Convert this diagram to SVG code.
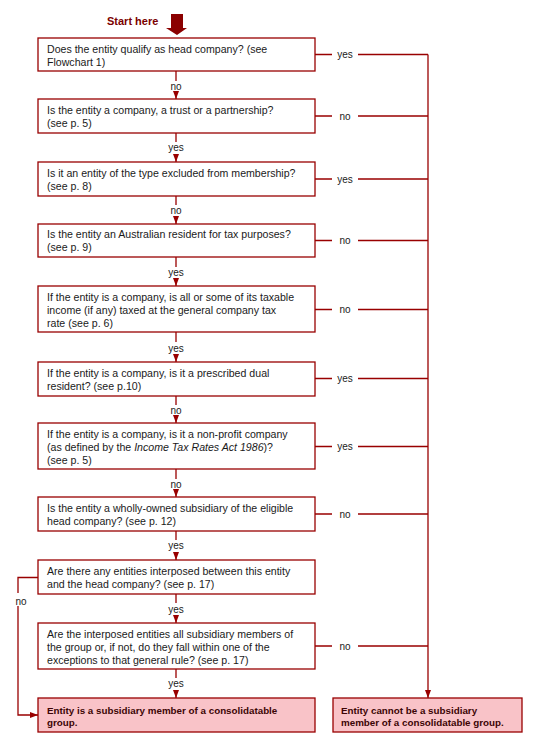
<svg xmlns="http://www.w3.org/2000/svg" width="544" height="748" viewBox="0 0 544 748">
<style>
  .box{fill:#ffffff;stroke:#990000;stroke-width:1.3}
  .end{fill:#f9c3c8;stroke:#990000;stroke-width:1.3}
  .t{font-family:"Liberation Sans",Arial,sans-serif;font-size:10.6px;fill:#1a1a1a}
  .te{font-family:"Liberation Sans",Arial,sans-serif;font-size:9.8px;font-weight:bold;fill:#3c0505}
  .lb{font-family:"Liberation Sans",Arial,sans-serif;font-size:10px;fill:#1a1a1a;text-anchor:middle}
  .c{fill:none;stroke:#990000;stroke-width:1.3}
  .start{font-family:"Liberation Sans",Arial,sans-serif;font-size:11px;font-weight:bold;fill:#7b0000}
</style>
<defs>
  <marker id="ah" viewBox="0 0 8 6" refX="8" refY="3" markerWidth="8" markerHeight="6" markerUnits="userSpaceOnUse" orient="auto">
    <path d="M0,0 L8,3 L0,6 z" fill="#990000"/>
  </marker>
</defs>
<rect width="544" height="748" fill="#ffffff"/>

<g id="start">
  <text class="start" x="107" y="25">Start here</text>
  <path d="M171,14 H183 V28 H187 L177,35 L166,28 H171 Z" fill="#8b0000"/>
</g>

<g id="q1">
  <rect class="box" x="38" y="38" width="277" height="33"/>
  <text class="t" x="47" y="52.5">Does the entity qualify as head company? (see</text>
  <text class="t" x="47" y="65.5">Flowchart 1)</text>
</g>
<g id="q2">
  <rect class="box" x="38" y="99" width="277" height="34"/>
  <text class="t" x="47" y="113.5">Is the entity a company, a trust or a partnership?</text>
  <text class="t" x="47" y="126.5">(see p. 5)</text>
</g>
<g id="q3">
  <rect class="box" x="38" y="162" width="277" height="34"/>
  <text class="t" x="47" y="176.5">Is it an entity of the type excluded from membership?</text>
  <text class="t" x="47" y="189.5">(see p. 8)</text>
</g>
<g id="q4">
  <rect class="box" x="38" y="224" width="277" height="33"/>
  <text class="t" x="47" y="238">Is the entity an Australian resident for tax purposes?</text>
  <text class="t" x="47" y="251">(see p. 9)</text>
</g>
<g id="q5">
  <rect class="box" x="38" y="286" width="277" height="46"/>
  <text class="t" x="47" y="301">If the entity is a company, is all or some of its taxable</text>
  <text class="t" x="47" y="314">income (if any) taxed at the general company tax</text>
  <text class="t" x="47" y="327">rate (see p. 6)</text>
</g>
<g id="q6">
  <rect class="box" x="38" y="362" width="277" height="34"/>
  <text class="t" x="47" y="376.5">If the entity is a company, is it a prescribed dual</text>
  <text class="t" x="47" y="389.5">resident? (see p.10)</text>
</g>
<g id="q7">
  <rect class="box" x="38" y="423" width="277" height="46"/>
  <text class="t" x="47" y="438">If the entity is a company, is it a non-profit company</text>
  <text class="t" x="47" y="451">(as defined by the <tspan font-style="italic">Income Tax Rates Act 1986</tspan>)?</text>
  <text class="t" x="47" y="464">(see p. 5)</text>
</g>
<g id="q8">
  <rect class="box" x="38" y="497" width="277" height="34"/>
  <text class="t" x="47" y="511.5">Is the entity a wholly-owned subsidiary of the eligible</text>
  <text class="t" x="47" y="524.5">head company? (see p. 12)</text>
</g>
<g id="q9">
  <rect class="box" x="38" y="560" width="277" height="34"/>
  <text class="t" x="47" y="574.5">Are there any entities interposed between this entity</text>
  <text class="t" x="47" y="587.5">and the head company? (see p. 17)</text>
</g>
<g id="q10">
  <rect class="box" x="38" y="623" width="277" height="46"/>
  <text class="t" x="47" y="638">Are the interposed entities all subsidiary members of</text>
  <text class="t" x="47" y="651">the group or, if not, do they fall within one of the</text>
  <text class="t" x="47" y="664">exceptions to that general rule? (see p. 17)</text>
</g>
<g id="endYes">
  <rect class="end" x="38" y="698" width="277" height="34"/>
  <text class="te" x="47" y="713.5">Entity is a subsidiary member of a consolidatable</text>
  <text class="te" x="47" y="726">group.</text>
</g>
<g id="endNo">
  <rect class="end" x="333" y="698" width="189" height="34"/>
  <text class="te" x="341" y="713.5">Entity cannot be a subsidiary</text>
  <text class="te" x="341" y="726">member of a consolidatable group.</text>
</g>

<g id="connectors">
  <path class="c" d="M176,71 V81 M176,92 V99" marker-end="url(#ah)"/>
  <path class="c" d="M176,133 V142 M176,154 V162" marker-end="url(#ah)"/>
  <path class="c" d="M176,196 V205 M176,216 V224" marker-end="url(#ah)"/>
  <path class="c" d="M176,257 V267 M176,279 V286" marker-end="url(#ah)"/>
  <path class="c" d="M176,332 V342 M176,354 V362" marker-end="url(#ah)"/>
  <path class="c" d="M176,396 V405 M176,416 V423" marker-end="url(#ah)"/>
  <path class="c" d="M176,469 V479 M176,490 V497" marker-end="url(#ah)"/>
  <path class="c" d="M176,531 V540 M176,552 V560" marker-end="url(#ah)"/>
  <path class="c" d="M176,594 V603 M176,615 V623" marker-end="url(#ah)"/>
  <path class="c" d="M176,669 V678 M176,690 V698" marker-end="url(#ah)"/>
  <text class="lb" x="176" y="89.5">no</text>
  <text class="lb" x="176" y="151">yes</text>
  <text class="lb" x="176" y="214">no</text>
  <text class="lb" x="176" y="276">yes</text>
  <text class="lb" x="176" y="351.5">yes</text>
  <text class="lb" x="176" y="413.5">no</text>
  <text class="lb" x="176" y="487.5">no</text>
  <text class="lb" x="176" y="549">yes</text>
  <text class="lb" x="176" y="612.5">yes</text>
  <text class="lb" x="176" y="687">yes</text>

  <path class="c" d="M315,54.5 H332 M358,54.5 H428"/>
  <path class="c" d="M315,116 H332 M358,116 H428"/>
  <path class="c" d="M315,179 H332 M358,179 H428"/>
  <path class="c" d="M315,240.5 H332 M358,240.5 H428"/>
  <path class="c" d="M315,309.5 H332 M358,309.5 H428" stroke-width="2"/>
  <path class="c" d="M315,378.5 H332 M358,378.5 H428"/>
  <path class="c" d="M315,446.5 H332 M358,446.5 H428"/>
  <path class="c" d="M315,514 H332 M358,514 H428"/>
  <path class="c" d="M315,646 H332 M358,646 H428"/>
  <path class="c" d="M428,54.5 V698" marker-end="url(#ah)"/>
  <text class="lb" x="345" y="58">yes</text>
  <text class="lb" x="345" y="119.5">no</text>
  <text class="lb" x="345" y="182.5">yes</text>
  <text class="lb" x="345" y="244">no</text>
  <text class="lb" x="345" y="313">no</text>
  <text class="lb" x="345" y="382">yes</text>
  <text class="lb" x="345" y="450">yes</text>
  <text class="lb" x="345" y="517.5">no</text>
  <text class="lb" x="345" y="649.5">no</text>

  <path class="c" d="M38,577.5 H18 V593 M18,606 V715 H38" marker-end="url(#ah)"/>
  <text class="lb" x="21" y="604.5">no</text>
</g>
</svg>
